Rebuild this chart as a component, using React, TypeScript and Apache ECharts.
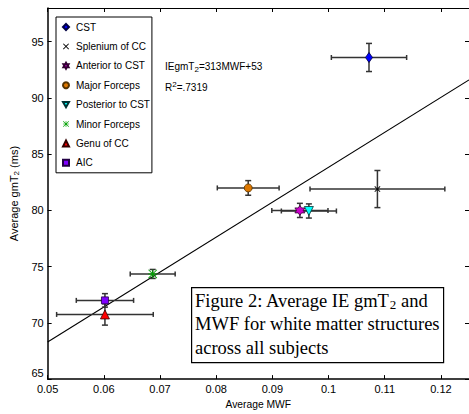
import React, { useEffect, useRef } from "react";
import * as echarts from "echarts";

const names = ["CST", "Splenium of CC", "Anterior to CST", "Major Forceps", "Posterior to CST", "Minor Forceps", "Genu of CC", "AIC"];
const mwf = [0.1072, 0.1087, 0.0949, 0.0857, 0.0965, 0.0687, 0.0602, 0.0602];
const gmT2 = [93.6, 81.9, 80.0, 82.0, 79.95, 74.35, 70.75, 72.0];
const mwfErr = [0.0067, 0.012, 0.005, 0.0055, 0.0049, 0.004, 0.0086, 0.0051];
const gmT2Err = [1.25, 1.65, 0.63, 0.65, 0.63, 0.4, 0.95, 0.6];
const fitX = [0.05, 0.125];
const fitY = [68.3, 91.6];
const captionLines = ["Figure 2: Average IE gmT", "2", " and", "MWF for white matter structures", "across all subjects"];

const SANS = "'Liberation Sans', Arial, Helvetica, sans-serif";
const SERIF = "'Liberation Serif', 'Times New Roman', serif";

const X_PATH = "path://M0,1L1,0L5,4L9,0L10,1L6,5L10,9L9,10L5,6L1,10L0,9L4,5Z";
const STAR_PATH = "path://M5,0L6.44,2.5L9.33,2.5L7.89,5L9.33,7.5L6.44,7.5L5,10L3.56,7.5L0.67,7.5L2.11,5L0.67,2.5L3.56,2.5Z";
const DOWN_TRI = "path://M0,0L10,0L5,9Z";
const ASTERISK =
  "path://M4.5,0H5.5V10H4.5Z M0,4.5H10V5.5H0Z M0.7,0L10,9.3L9.3,10L0,0.7Z M9.3,0L10,0.7L0.7,10L0,9.3Z";

const markers = [
  { symbol: "diamond", size: [7, 10], color: "#0000ff", border: "#000044", bw: 0.8 },
  { symbol: X_PATH, size: 6, color: "#000000", border: "#000000", bw: 0 },
  { symbol: STAR_PATH, size: 10, color: "#cc00cc", border: "#330033", bw: 0.8 },
  { symbol: "circle", size: 8, color: "#dd7700", border: "#553300", bw: 0.8 },
  { symbol: DOWN_TRI, size: 9, color: "#00ffff", border: "#003333", bw: 0.8 },
  { symbol: ASTERISK, size: 9, color: "#00a000", border: "#00a000", bw: 0 },
  { symbol: "triangle", size: 9, color: "#ff0000", border: "#330000", bw: 0.8 },
  { symbol: "rect", size: 7, color: "#7f00ff", border: "#220044", bw: 0.8 },
];

export default function App() {
  const ref = useRef<HTMLDivElement>(null);
  useEffect(() => {
    if (!ref.current) return;
    const chart = echarts.init(ref.current, undefined, { renderer: "svg" });
    const errData = names.map((_, i) => [mwf[i], gmT2[i], mwfErr[i], gmT2Err[i]]);
    const errStyle = { stroke: "#333333", lineWidth: 1.5 };
    const scatterSeries = names.map((n, i) => ({
      type: "scatter",
      name: n,
      data: [[mwf[i], gmT2[i]]],
      symbol: markers[i].symbol,
      symbolSize: markers[i].size,
      itemStyle: { color: markers[i].color, borderColor: markers[i].border, borderWidth: markers[i].bw, opacity: 1 },
      z: 5,
    }));
    const axisCommon = {
      axisLine: { lineStyle: { color: "#000", width: 1.5 } },
      axisTick: { inside: true, length: 4, lineStyle: { color: "#000", width: 1 } },
      splitLine: { show: false },
    };
    chart.setOption({
      animation: false,
      backgroundColor: "#fff",
      grid: { left: 38, top: 8, right: -2, bottom: 31, containLabel: false },
      xAxis: [
        {
          type: "value", min: 0.05, max: 0.125, interval: 0.01, position: "bottom",
          ...axisCommon,
          axisLabel: { color: "#000", fontSize: 11, fontFamily: SANS, margin: 4, showMaxLabel: false },
          name: "Average MWF", nameLocation: "middle", nameGap: 15,
          nameTextStyle: { color: "#000", fontSize: 10.3, fontFamily: SANS },
        },
        {
          type: "value", min: 0.05, max: 0.125, interval: 0.01, position: "top",
          axisLine: { lineStyle: { color: "#000", width: 1 } },
          axisTick: { inside: true, length: 4, lineStyle: { color: "#000" } },
          axisLabel: { show: false }, splitLine: { show: false },
        },
      ],
      yAxis: [
        {
          type: "value", min: 65, max: 98, interval: 5, position: "left",
          ...axisCommon,
          axisLabel: {
            color: "#000", fontSize: 11, fontFamily: SANS, margin: 4, showMaxLabel: false,
            formatter: (v: number) => (v === 65 ? "{low|65}" : String(v)),
            rich: { low: { fontSize: 11, fontFamily: SANS, color: "#000", padding: [0, 0, 12, 0] } },
          },
          name: "{a|Average gmT}{s|2}{a| (ms)}", nameLocation: "middle", nameGap: 20,
          nameTextStyle: {
            color: "#000", fontFamily: SANS,
            rich: {
              a: { fontSize: 11, color: "#000", fontFamily: SANS },
              s: { fontSize: 8, color: "#000", fontFamily: SANS, padding: [6, 0, 0, 0] },
            },
          },
        },
        {
          type: "value", min: 65, max: 98, interval: 5, position: "right",
          axisLine: { lineStyle: { color: "#000", width: 1 } },
          axisTick: { inside: true, length: 4, lineStyle: { color: "#000" } },
          axisLabel: { show: false }, splitLine: { show: false },
        },
      ],
      legend: {
        data: names,
        orient: "vertical",
        left: 56, top: 17,
        itemWidth: 6, itemHeight: 6, itemGap: 5.4,
        padding: [3, 2, 3, 6],
        borderColor: "#000", borderWidth: 1, backgroundColor: "#fff",
        selectedMode: false,
        textStyle: { color: "#000", fontSize: 10, fontFamily: SANS, lineHeight: 14, padding: [0, 0, 0, 2] },
      },
      graphic: [
        {
          type: "text", left: 165, top: 61,
          style: {
            text: "{a|IEgmT}{s|2}{a|=313MWF+53}",
            rich: {
              a: { fontSize: 10, fontFamily: SANS, fill: "#000" },
              s: { fontSize: 8, fontFamily: SANS, fill: "#000", padding: [7, 0, 0, 0] },
            },
          },
        },
        {
          type: "text", left: 165, top: 80,
          style: {
            text: "{a|R}{p|2}{a|=.7319}",
            rich: {
              a: { fontSize: 10, fontFamily: SANS, fill: "#000" },
              p: { fontSize: 8, fontFamily: SANS, fill: "#000", padding: [0, 0, 6, 0] },
            },
          },
        },
        {
          type: "rect", left: 191, top: 287, z: 10,
          shape: { width: 252, height: 75 },
          style: { fill: "#fff", stroke: "#000", lineWidth: 1.2 },
        },
        {
          type: "text", left: 195, top: 290, z: 11,
          style: {
            text:
              "{t|" + captionLines[0] + "}{s|" + captionLines[1] + "}{t|" + captionLines[2] + "}\n{t|" +
              captionLines[3] + "}\n{t|" + captionLines[4] + "}",
            rich: {
              t: { fontSize: 18.5, fontFamily: SERIF, fill: "#000", lineHeight: 23.5 },
              s: { fontSize: 13, fontFamily: SERIF, fill: "#000", lineHeight: 23.5, padding: [8, 0, 0, 0] },
            },
          },
        },
      ],
      series: [
        {
          type: "line",
          data: fitX.map((x, i) => [x, fitY[i]]),
          showSymbol: false, symbol: "none",
          lineStyle: { color: "#000", width: 1.1 },
          z: 2, silent: true,
        },
        {
          type: "custom",
          data: errData,
          encode: { x: 0, y: 1 },
          z: 3,
          renderItem: (params: any, api: any) => {
            const x = api.value(0), y = api.value(1), ex = api.value(2), ey = api.value(3);
            const l = api.coord([x - ex, y]);
            const r = api.coord([x + ex, y]);
            const t = api.coord([x, y + ey]);
            const b = api.coord([x, y - ey]);
            const hc = 2.5, vc = 3;
            return {
              type: "group",
              children: [
                { type: "line", shape: { x1: l[0], y1: l[1], x2: r[0], y2: r[1] }, style: errStyle },
                { type: "line", shape: { x1: l[0], y1: l[1] - hc, x2: l[0], y2: l[1] + hc }, style: errStyle },
                { type: "line", shape: { x1: r[0], y1: r[1] - hc, x2: r[0], y2: r[1] + hc }, style: errStyle },
                { type: "line", shape: { x1: t[0], y1: t[1], x2: b[0], y2: b[1] }, style: errStyle },
                { type: "line", shape: { x1: t[0] - vc, y1: t[1], x2: t[0] + vc, y2: t[1] }, style: errStyle },
                { type: "line", shape: { x1: b[0] - vc, y1: b[1], x2: b[0] + vc, y2: b[1] }, style: errStyle },
              ],
            };
          },
        },
        ...scatterSeries,
      ],
    } as any);
    return () => chart.dispose();
  }, []);
  return <div ref={ref} style={{ position: "fixed", left: 0, top: 0, width: 469, height: 414 }} />;
}
